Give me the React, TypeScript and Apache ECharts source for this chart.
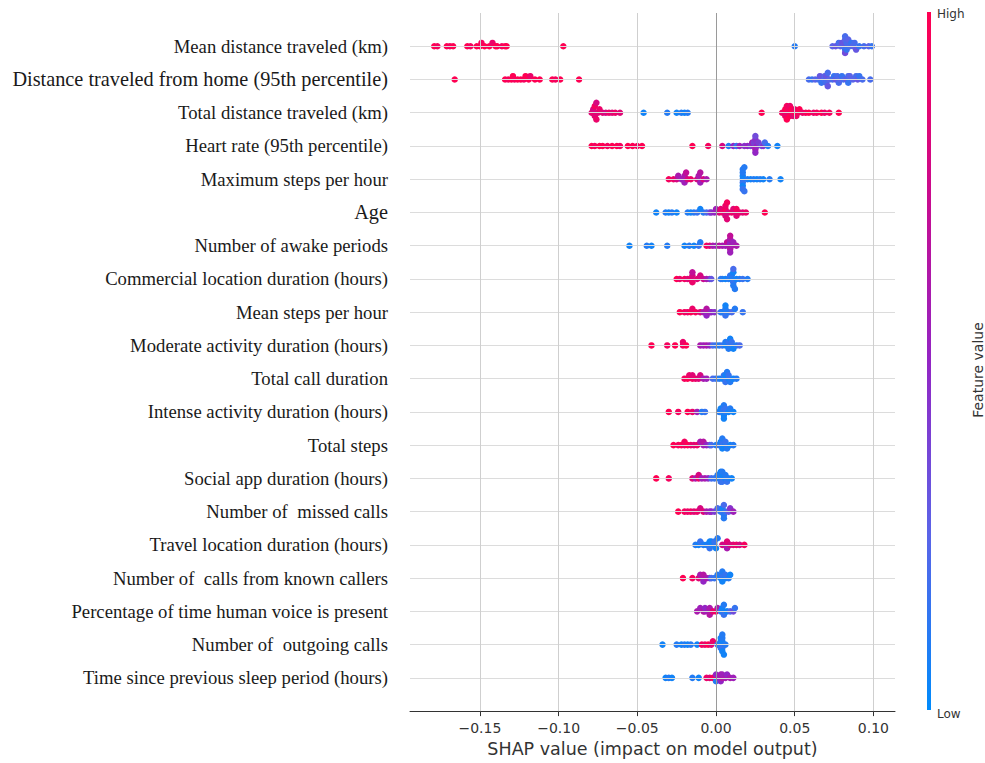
import React, { useEffect, useRef } from "react";
import * as echarts from "echarts";

// Features, most important first (drawn top to bottom)
const FEATURES = [
  "Mean distance traveled (km)",
  "Distance traveled from home (95th percentile)",
  "Total distance traveled (km)",
  "Heart rate (95th percentile)",
  "Maximum steps per hour",
  "Age",
  "Number of awake periods",
  "Commercial location duration (hours)",
  "Mean steps per hour",
  "Moderate activity duration (hours)",
  "Total call duration",
  "Intense activity duration (hours)",
  "Total steps",
  "Social app duration (hours)",
  "Number of  missed calls",
  "Travel location duration (hours)",
  "Number of  calls from known callers",
  "Percentage of time human voice is present",
  "Number of  outgoing calls",
  "Time since previous sleep period (hours)",
];
const BIG_LABELS = ["Distance traveled from home (95th percentile)", "Age"];

// [SHAP value, normalised feature value (0 = low, 1 = high)]
const meanDistance = [
  [-0.179, 1], [-0.177, 0.95], [-0.171, 1], [-0.169, 0.95], [-0.167, 1], [-0.158, 1], [-0.156, 0.95],
  [-0.152, 1], [-0.15, 1], [-0.149, 0.95], [-0.147, 1], [-0.144, 1], [-0.142, 0.9], [-0.14, 1],
  [-0.139, 1], [-0.136, 0.95], [-0.134, 1], [-0.133, 1], [-0.097, 1],
  [0.05, 0.1], [0.074, 0.25], [0.076, 0.3], [0.078, 0.2], [0.079, 0.25], [0.08, 0.3], [0.081, 0.2],
  [0.081, 0.3], [0.082, 0.15], [0.082, 0.25], [0.082, 0.35], [0.082, 0.2], [0.083, 0.3], [0.083, 0.2],
  [0.083, 0.15], [0.084, 0.25], [0.085, 0.2], [0.086, 0.15], [0.087, 0.25], [0.088, 0.2], [0.089, 0.3],
  [0.091, 0.15], [0.094, 0.2], [0.097, 0.25], [0.099, 0.15],
];
const homeDistance = [
  [-0.166, 1], [-0.134, 1], [-0.132, 0.95], [-0.13, 1], [-0.129, 1], [-0.128, 0.95], [-0.126, 1],
  [-0.124, 1], [-0.122, 0.95], [-0.121, 1], [-0.119, 1], [-0.118, 0.9], [-0.115, 1], [-0.112, 1],
  [-0.104, 1], [-0.102, 0.95], [-0.099, 1], [-0.087, 1],
  [0.059, 0.2], [0.061, 0.15], [0.063, 0.25], [0.065, 0.2], [0.066, 0.3], [0.067, 0.15], [0.069, 0.2],
  [0.069, 0.25], [0.07, 0.15], [0.07, 0.3], [0.07, 0.2], [0.071, 0.2], [0.071, 0.3], [0.072, 0.25],
  [0.074, 0.2], [0.075, 0.15], [0.076, 0.3], [0.077, 0.2], [0.078, 0.2], [0.079, 0.25], [0.08, 0.15],
  [0.081, 0.2], [0.083, 0.3], [0.084, 0.2], [0.084, 0.15], [0.085, 0.15], [0.085, 0.25], [0.087, 0.25],
  [0.089, 0.2], [0.09, 0.3], [0.091, 0.15], [0.093, 0.2], [0.098, 0.2],
];
const totalDistance = [
  [-0.079, 0.85], [-0.078, 0.9], [-0.078, 0.8], [-0.077, 0.85], [-0.077, 0.95], [-0.076, 0.9],
  [-0.076, 0.8], [-0.075, 0.85], [-0.074, 0.9], [-0.072, 0.85], [-0.07, 0.8], [-0.068, 0.9],
  [-0.066, 0.85], [-0.064, 0.9], [-0.061, 0.85],
  [-0.046, 0.05], [-0.031, 0.1], [-0.025, 0.05], [-0.022, 0.1], [-0.02, 0.05], [-0.018, 0.1],
  [0.029, 1], [0.042, 0.95], [0.043, 0.9], [0.044, 1], [0.044, 0.9], [0.045, 0.95], [0.045, 1],
  [0.046, 0.9], [0.046, 0.95], [0.047, 1], [0.047, 0.9], [0.048, 0.95], [0.048, 1], [0.049, 0.85],
  [0.05, 1], [0.05, 0.9], [0.051, 0.9], [0.052, 0.95], [0.053, 1], [0.055, 0.9], [0.057, 0.95],
  [0.059, 1], [0.062, 0.9], [0.064, 0.95], [0.067, 1], [0.069, 0.9], [0.072, 0.95], [0.078, 1],
];
const heartRate = [
  [-0.079, 1], [-0.077, 0.95], [-0.074, 1], [-0.072, 1], [-0.069, 0.95], [-0.066, 1], [-0.063, 1],
  [-0.061, 0.95], [-0.056, 1], [-0.053, 1], [-0.05, 0.95], [-0.047, 1],
  [-0.015, 1], [-0.005, 0.95], [0.004, 0.8], [0.008, 0.1], [0.011, 0.5], [0.013, 0.15], [0.015, 0.55],
  [0.018, 0.45], [0.02, 0.5], [0.022, 0.4], [0.023, 0.55], [0.024, 0.5], [0.024, 0.4], [0.025, 0.6],
  [0.025, 0.45], [0.025, 0.5], [0.025, 0.35], [0.026, 0.5], [0.027, 0.4], [0.029, 0.3], [0.03, 0.45],
  [0.031, 0.2], [0.033, 0.1], [0.039, 0.05],
];
const maxSteps = [
  [-0.03, 0.95], [-0.027, 0.9], [-0.025, 0.8], [-0.024, 0.6], [-0.022, 0.55], [-0.02, 0.5],
  [-0.02, 0.6], [-0.02, 0.55], [-0.019, 0.7], [-0.018, 0.8], [-0.016, 0.9], [-0.012, 0.8],
  [-0.011, 0.6], [-0.01, 0.55], [-0.01, 0.65], [-0.008, 0.8], [-0.006, 0.6],
  [0.017, 0.1], [0.017, 0.05], [0.017, 0.15], [0.017, 0.1], [0.017, 0.05], [0.017, 0.1], [0.017, 0.15],
  [0.018, 0.1], [0.018, 0.15], [0.02, 0.1], [0.022, 0.05], [0.024, 0.1], [0.026, 0.05], [0.028, 0.1],
  [0.03, 0.05], [0.034, 0.1], [0.041, 0.05],
];
const age = [
  [-0.038, 0.05], [-0.032, 0.1], [-0.03, 0.05], [-0.028, 0.1], [-0.025, 0.05], [-0.018, 0.1],
  [-0.016, 0.05], [-0.014, 0.1], [-0.012, 0.15], [-0.01, 0.05], [-0.008, 0.1], [-0.006, 0.2],
  [-0.004, 0.3], [-0.003, 0.45], [-0.001, 0.5], [0.0, 0.55],
  [0.002, 0.8], [0.003, 0.85], [0.004, 0.9], [0.006, 0.85], [0.006, 0.95], [0.006, 0.8], [0.006, 0.9],
  [0.007, 0.85], [0.007, 0.95], [0.008, 0.8], [0.01, 0.9], [0.011, 0.85], [0.013, 0.8], [0.013, 0.95],
  [0.013, 0.85], [0.015, 0.9], [0.017, 0.85], [0.019, 0.9], [0.031, 1],
];
const awakePeriods = [
  [-0.055, 0.05], [-0.044, 0.1], [-0.041, 0.05], [-0.031, 0.1], [-0.02, 0.05], [-0.017, 0.1],
  [-0.014, 0.05], [-0.011, 0.15], [-0.01, 0.1], [-0.006, 0.95], [-0.004, 0.85],
  [-0.002, 0.6], [0.0, 0.55], [0.002, 0.65], [0.004, 0.6], [0.006, 0.55], [0.007, 0.7], [0.008, 0.6],
  [0.009, 0.5], [0.009, 0.65], [0.009, 0.6], [0.009, 0.55], [0.009, 0.7], [0.01, 0.6], [0.011, 0.55],
  [0.013, 0.6],
];
const commercialLocation = [
  [-0.025, 1], [-0.023, 0.9], [-0.02, 0.95], [-0.018, 0.85], [-0.016, 0.9], [-0.015, 0.8],
  [-0.015, 0.9], [-0.015, 0.7], [-0.012, 0.85], [-0.01, 0.8], [-0.008, 0.75], [-0.006, 0.6],
  [-0.004, 0.5], [-0.003, 0.3],
  [0.003, 0.15], [0.004, 0.1], [0.006, 0.05], [0.008, 0.1], [0.009, 0.15], [0.01, 0.05], [0.01, 0.1],
  [0.011, 0.15], [0.011, 0.05], [0.011, 0.1], [0.011, 0.2], [0.012, 0.1], [0.013, 0.05], [0.015, 0.1],
  [0.017, 0.15], [0.02, 0.1],
];
const meanSteps = [
  [-0.023, 1], [-0.02, 0.95], [-0.018, 0.9], [-0.016, 1], [-0.015, 0.9], [-0.013, 0.95], [-0.01, 0.85],
  [-0.008, 0.6], [-0.006, 0.55], [-0.006, 0.65], [-0.006, 0.5], [-0.004, 0.6], [-0.003, 0.5],
  [-0.001, 0.45],
  [0.003, 0.15], [0.004, 0.1], [0.006, 0.05], [0.006, 0.1], [0.006, 0.15], [0.006, 0.05], [0.008, 0.1],
  [0.01, 0.2], [0.012, 0.1], [0.017, 0.15],
];
const moderateActivity = [
  [-0.041, 1], [-0.031, 0.95], [-0.026, 1], [-0.021, 0.95], [-0.021, 0.9], [-0.019, 1], [-0.01, 0.6],
  [-0.008, 0.55], [-0.006, 0.6], [-0.004, 0.5],
  [-0.002, 0.2], [0.0, 0.15], [0.002, 0.1], [0.004, 0.15], [0.006, 0.05], [0.006, 0.1], [0.008, 0.05],
  [0.008, 0.15], [0.008, 0.1], [0.009, 0.05], [0.01, 0.1], [0.01, 0.15], [0.011, 0.05], [0.013, 0.1],
  [0.015, 0.2],
];
const callDuration = [
  [-0.02, 0.95], [-0.018, 1], [-0.017, 0.9], [-0.015, 0.95], [-0.015, 0.85], [-0.013, 0.9],
  [-0.011, 0.85], [-0.01, 0.8], [-0.008, 0.6], [-0.006, 0.55],
  [-0.002, 0.2], [0.0, 0.15], [0.002, 0.1], [0.004, 0.05], [0.005, 0.15], [0.006, 0.1], [0.006, 0.05],
  [0.006, 0.15], [0.007, 0.1], [0.008, 0.05], [0.008, 0.15], [0.009, 0.1], [0.011, 0.05], [0.013, 0.1],
];
const intenseActivity = [
  [-0.03, 1], [-0.024, 0.95], [-0.018, 1], [-0.015, 0.9], [-0.012, 0.55], [-0.009, 0.1], [-0.007, 0.15],
  [0.002, 0.1], [0.003, 0.05], [0.004, 0.1], [0.005, 0.15], [0.005, 0.05], [0.005, 0.1], [0.005, 0.05],
  [0.006, 0.1], [0.006, 0.15], [0.008, 0.05], [0.009, 0.1], [0.011, 0.05],
];
const totalSteps = [
  [-0.027, 1], [-0.024, 0.95], [-0.022, 1], [-0.02, 0.9], [-0.02, 0.95], [-0.018, 1], [-0.016, 0.9],
  [-0.014, 0.85], [-0.012, 0.9], [-0.01, 0.6], [-0.008, 0.55], [-0.008, 0.65], [-0.006, 0.5],
  [-0.004, 0.4], [-0.003, 0.2],
  [0.0, 0.1], [0.002, 0.15], [0.003, 0.05], [0.004, 0.1], [0.004, 0.15], [0.004, 0.05], [0.004, 0.1],
  [0.006, 0.05], [0.006, 0.15], [0.007, 0.1], [0.009, 0.05], [0.011, 0.1],
];
const socialApp = [
  [-0.038, 1], [-0.03, 0.95], [-0.015, 0.85], [-0.013, 0.6], [-0.011, 0.9], [-0.011, 0.8],
  [-0.009, 0.55], [-0.007, 0.6], [-0.005, 0.5], [-0.003, 0.2], [-0.001, 0.15],
  [0.001, 0.1], [0.002, 0.05], [0.003, 0.1], [0.003, 0.15], [0.003, 0.05], [0.004, 0.1], [0.004, 0.05],
  [0.004, 0.15], [0.004, 0.1], [0.006, 0.05], [0.006, 0.1], [0.007, 0.15], [0.008, 0.1], [0.01, 0.05],
];
const missedCalls = [
  [-0.024, 1], [-0.02, 0.95], [-0.018, 0.9], [-0.016, 0.95], [-0.014, 0.85], [-0.012, 0.9],
  [-0.01, 0.8], [-0.008, 0.85], [-0.006, 0.6], [-0.004, 0.55], [-0.003, 0.5],
  [-0.001, 0.4], [0.001, 0.2], [0.003, 0.1], [0.004, 0.15], [0.004, 0.05], [0.005, 0.1], [0.005, 0.2],
  [0.005, 0.1], [0.006, 0.15], [0.008, 0.3], [0.009, 0.45], [0.011, 0.55],
];
const travelLocation = [
  [-0.013, 0.1], [-0.011, 0.05], [-0.01, 0.15], [-0.008, 0.1], [-0.006, 0.05], [-0.005, 0.1],
  [-0.004, 0.05], [-0.004, 0.15], [-0.003, 0.1], [-0.003, 0.05], [-0.001, 0.1], [-0.001, 0.15],
  [0.0, 0.05], [0.001, 0.1],
  [0.004, 0.8], [0.006, 0.75], [0.007, 0.85], [0.007, 0.6], [0.009, 0.8], [0.011, 0.85], [0.013, 0.9],
  [0.015, 0.8], [0.018, 0.95],
];
const knownCallers = [
  [-0.021, 1], [-0.015, 0.95], [-0.011, 0.85], [-0.01, 0.6], [-0.008, 0.55], [-0.008, 0.65],
  [-0.008, 0.5], [-0.006, 0.6], [-0.004, 0.5], [-0.003, 0.2],
  [-0.001, 0.15], [0.001, 0.1], [0.003, 0.05], [0.004, 0.1], [0.004, 0.15], [0.004, 0.05], [0.004, 0.1],
  [0.006, 0.05], [0.006, 0.15], [0.008, 0.1], [0.009, 0.05],
];
const humanVoice = [
  [-0.012, 0.6], [-0.01, 0.55], [-0.008, 0.65], [-0.007, 0.6], [-0.007, 0.5], [-0.005, 0.55],
  [-0.004, 0.6], [-0.004, 0.65], [-0.002, 0.85], [0.0, 0.95], [0.001, 0.6],
  [0.003, 0.15], [0.004, 0.1], [0.004, 0.05], [0.005, 0.15], [0.005, 0.1], [0.007, 0.05], [0.009, 0.2],
  [0.011, 0.35], [0.012, 0.15],
];
const outgoingCalls = [
  [-0.034, 0.05], [-0.025, 0.1], [-0.022, 0.05], [-0.02, 0.1], [-0.018, 0.05], [-0.016, 0.1],
  [-0.012, 0.05], [-0.009, 0.95], [-0.007, 0.9], [-0.005, 1], [-0.003, 0.85], [-0.002, 0.9],
  [0.001, 0.1], [0.002, 0.05], [0.003, 0.1], [0.003, 0.15], [0.003, 0.05], [0.004, 0.1], [0.004, 0.05],
  [0.004, 0.15], [0.004, 0.1], [0.004, 0.05], [0.004, 0.1], [0.005, 0.05], [0.006, 0.1],
];
const sleepGap = [
  [-0.032, 0.05], [-0.03, 0.1], [-0.028, 0.05], [-0.015, 0.1], [-0.011, 0.05], [-0.006, 0.9],
  [-0.004, 0.85], [-0.002, 0.95],
  [0.0, 0.9], [0.0, 0.5], [0.0, 0.1], [0.002, 0.55], [0.003, 0.6], [0.003, 0.5], [0.004, 0.65],
  [0.004, 0.55], [0.006, 0.6], [0.007, 0.5], [0.009, 0.6], [0.011, 0.55],
];

const ROWS = [
  meanDistance, homeDistance, totalDistance, heartRate, maxSteps, age, awakePeriods,
  commercialLocation, meanSteps, moderateActivity, callDuration, intenseActivity, totalSteps,
  socialApp, missedCalls, travelLocation, knownCallers, humanVoice, outgoingCalls, sleepGap,
];

const X_TICKS = [-0.15, -0.1, -0.05, 0, 0.05, 0.1];
const X_MIN = -0.1944;
const X_MAX = 0.1137;

// shap "red_blue" colour map, low -> high
const COLOR_STOPS = ["#008bfb", "#5a64e8", "#9325c4", "#cc0a8c", "#ff0052"];

// beeswarm layout: points that share an x bin are stacked alternately up / down
const BIN = 0.0022;
const STEP = 0.1;
const MAX_OFFSET = 0.36;

function swarm(points: number[][], base: number) {
  const sorted = points.map((p) => p.slice()).sort((a, b) => a[0] - b[0]);
  let lastBin = NaN;
  let layer = 0;
  return sorted.map(([x, c]) => {
    const bin = Math.round(x / BIN);
    if (bin !== lastBin) layer = 0;
    const off = Math.ceil(layer / 2) * (layer % 2 ? 1 : -1) * STEP;
    layer += 1;
    lastBin = bin;
    return [x, base + Math.max(-MAX_OFFSET, Math.min(MAX_OFFSET, off)), c];
  });
}

const fmtTick = (v: number) => (v < 0 ? "\u2212" : "") + Math.abs(v).toFixed(2);

export default function App() {
  const ref = useRef<HTMLDivElement>(null);

  useEffect(() => {
    if (!ref.current) return;
    const chart = echarts.init(ref.current, undefined, { renderer: "svg" });
    const n = FEATURES.length;
    const points = ROWS.flatMap((row, i) => swarm(row, n - 1 - i));

    const rowLines = FEATURES.map((_, i) => ({
      yAxis: i,
      lineStyle: { color: "#dcdcdc", width: 1, type: "solid" },
    }));
    const tickLines = X_TICKS.map((t) => ({
      xAxis: t,
      lineStyle: { color: t === 0 ? "#9a9a9a" : "#cfcfcf", width: 1, type: "solid" },
    }));

    chart.setOption({
      animation: false,
      backgroundColor: "#ffffff",
      grid: { left: 410, right: 90, top: 13, bottom: 51 },
      xAxis: {
        type: "value",
        min: X_MIN,
        max: X_MAX,
        splitLine: { show: false },
        axisLine: { show: true, onZero: false, lineStyle: { color: "#333333", width: 1 } },
        axisTick: { show: true, length: 5, customValues: X_TICKS, lineStyle: { color: "#333333" } },
        axisLabel: {
          customValues: X_TICKS,
          formatter: fmtTick,
          fontFamily: "DejaVu Sans",
          fontSize: 14,
          color: "#333333",
          margin: 10,
        },
        name: "SHAP value (impact on model output)",
        nameLocation: "middle",
        nameGap: 28,
        nameTextStyle: { fontFamily: "DejaVu Sans", fontSize: 17.5, color: "#333333" },
      },
      yAxis: {
        type: "value",
        min: -1,
        max: n,
        interval: 1,
        splitLine: { show: false },
        axisLine: { show: false },
        axisTick: { show: false },
        axisLabel: {
          margin: 22,
          formatter: (v: number) => {
            const idx = n - 1 - Math.round(v);
            if (idx < 0 || idx >= n) return "";
            const name = FEATURES[idx];
            return BIG_LABELS.includes(name) ? `{big|${name}}` : `{n|${name}}`;
          },
          rich: {
            n: { fontFamily: "Liberation Serif", fontSize: 18.7, color: "#1a1a1a" },
            big: { fontFamily: "Liberation Serif", fontSize: 20.3, color: "#1a1a1a" },
          },
        },
      },
      visualMap: {
        show: false,
        type: "continuous",
        min: 0,
        max: 1,
        dimension: 2,
        seriesIndex: 1,
        inRange: { color: COLOR_STOPS },
      },
      series: [
        {
          type: "scatter",
          data: [],
          z: 1,
          silent: true,
          markLine: {
            silent: true,
            symbol: ["none", "none"],
            label: { show: false },
            data: [...rowLines, ...tickLines],
          },
        },
        {
          type: "scatter",
          z: 3,
          symbol: "circle",
          symbolSize: 6.5,
          itemStyle: { opacity: 1 },
          data: points,
        },
      ],
      graphic: [
        {
          type: "rect",
          shape: { x: 927, y: 12, width: 4, height: 698 },
          style: {
            fill: new echarts.graphic.LinearGradient(0, 0, 0, 1, [
              { offset: 0, color: COLOR_STOPS[4] },
              { offset: 0.25, color: COLOR_STOPS[3] },
              { offset: 0.5, color: COLOR_STOPS[2] },
              { offset: 0.75, color: COLOR_STOPS[1] },
              { offset: 1, color: COLOR_STOPS[0] },
            ]),
          },
        },
        {
          type: "text",
          x: 937,
          y: 14,
          style: { text: "High", fontFamily: "DejaVu Sans", fontSize: 12, fill: "#333333", verticalAlign: "middle" },
        },
        {
          type: "text",
          x: 937,
          y: 714,
          style: { text: "Low", fontFamily: "DejaVu Sans", fontSize: 12, fill: "#333333", verticalAlign: "middle" },
        },
        {
          type: "text",
          x: 978,
          y: 370,
          rotation: Math.PI / 2,
          style: {
            text: "Feature value",
            fontFamily: "DejaVu Sans",
            fontSize: 14,
            fill: "#333333",
            align: "center",
            verticalAlign: "middle",
          },
        },
      ],
    });

    return () => chart.dispose();
  }, []);

  return (
    <div
      ref={ref}
      style={{ position: "fixed", left: 0, top: 0, width: 985, height: 763, background: "#fff" }}
    />
  );
}
